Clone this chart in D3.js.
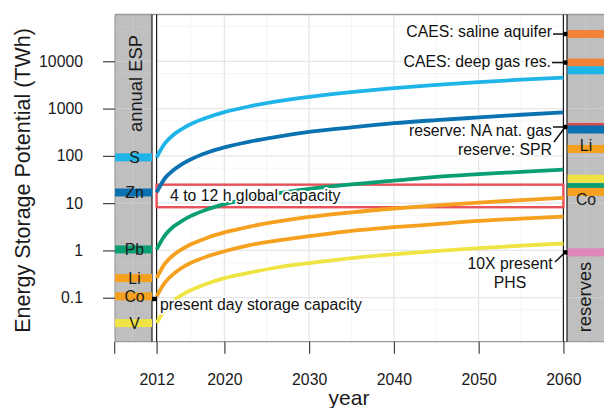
<!DOCTYPE html>
<html>
<head>
<meta charset="utf-8">
<script src="https://cdn.jsdelivr.net/npm/d3@7"></script>
<style>
  html, body { margin: 0; padding: 0; background: #fff; }
  svg { display: block; font-family: "Liberation Sans", Arial, Helvetica, sans-serif; }
</style>
</head>
<body>
<svg id="chart" width="604" height="408"></svg>
<script>
// ---------- data ----------
const years = [2012, 2013, 2014, 2015, 2016, 2018, 2020, 2023, 2026, 2030, 2035, 2040, 2045, 2050, 2055, 2060];

// cumulative energy storage potential (TWh) per material
const materials = ["S", "Zn", "Pb", "Li", "Co", "V"];
const annualEsp = [93, 16.8, 1.05, 0.26, 0.107, 0.029];
const espS  = [93, 185, 280, 370, 465, 650, 840, 1120, 1400, 1770, 2230, 2700, 3160, 3630, 4090, 4500];
const espZn = [16.8, 34, 50, 67, 84, 118, 151, 200, 250, 320, 400, 490, 570, 650, 740, 830];
const espPb = [1.05, 2.1, 3.2, 4.2, 5.3, 7.4, 9.5, 12.6, 15.8, 20, 25, 30, 36, 41, 46, 51];
const espLi = [0.26, 0.53, 0.8, 1.06, 1.33, 1.86, 2.4, 3.2, 4.0, 5.1, 6.4, 7.7, 9.0, 10.3, 11.6, 12.9];
const espCo = [0.107, 0.21, 0.32, 0.43, 0.54, 0.75, 0.96, 1.3, 1.6, 2.0, 2.6, 3.1, 3.6, 4.2, 4.7, 5.2];
const espV  = [0.029, 0.057, 0.086, 0.115, 0.143, 0.2, 0.26, 0.34, 0.43, 0.54, 0.69, 0.83, 0.97, 1.12, 1.26, 1.4];
const espSeries = [espS, espZn, espPb, espLi, espCo, espV];

// reserves (TWh)
const reserveKeys   = ["saline", "deepgas", "S", "natgas", "Zn", "Li", "V", "Pb", "Co", "phs"];
const reserveValues = [37700, 9400, 6450, 408, 361, 140, 32.8, 21.8, 17.3, 0.91];
const reserveLabels = ["", "", "", "", "", "Li", "", "", "Co", ""];

// global capacity band: 4 h and 12 h
const capacityRange = [8.2, 24.6];
const presentStorage = 0.094;

// axis ticks
const xTicks = [2007, 2012, 2020, 2030, 2040, 2050, 2060];
const xTickLabels = ["", "2012", "2020", "2030", "2040", "2050", "2060"];
const xMinor = [2016, 2025, 2035, 2045, 2055];
const yTicks = [0.1, 1, 10, 100, 1000, 10000];
const yTickLabels = ["0.1", "1", "10", "100", "1000", "10000"];
const yMinor = [0.055, 0.55, 5.5, 55, 550, 5500, 55000];

// ---------- styles ----------
const matColor = {
  S: "#1fb5e9", Zn: "#0a72b0", Pb: "#0a9e73", Li: "#f5a01f", Co: "#f5a01f", V: "#efe443"
};
const resColor = {
  saline: "#f1823a", deepgas: "#f1823a", S: "#1fb5e9", natgas: "#d94a4a", Zn: "#0a72b0",
  Li: "#f5a01f", V: "#efe443", Pb: "#0a9e73", Co: "#f5a01f", phs: "#de87b8"
};
const capColor = "#e8505a";
const panelGrey = "#bfbfbf";
const textFont = 15.8;

// ---------- layout ----------
const svg = d3.select("#chart");
const panelTop = 14.5, panelBottom = 341.7;
const x = d3.scaleLinear().domain([2012, 2060]).range([156.6, 563.4]);
const y = d3.scaleLog().domain([0.1, 10000]).range([297.7, 61.3]);
const leftPanel = [x(2007) + 0.8, 152];
const rightPanel = [567, 606];
const mainArea = [x(2012), x(2060)];

// panels
svg.append("rect").attr("x", leftPanel[0]).attr("y", panelTop)
  .attr("width", leftPanel[1] - leftPanel[0]).attr("height", panelBottom - panelTop).attr("fill", panelGrey);
svg.append("rect").attr("x", rightPanel[0]).attr("y", panelTop)
  .attr("width", rightPanel[1] - rightPanel[0]).attr("height", panelBottom - panelTop).attr("fill", panelGrey);

// grid lines
const grid = svg.append("g");
function hLines(values, x0, x1, color, w) {
  grid.selectAll(null).data(values.filter(v => y(v) > panelTop && y(v) < panelBottom)).enter().append("line")
    .attr("x1", x0).attr("x2", x1).attr("y1", d => y(d)).attr("y2", d => y(d))
    .attr("stroke", color).attr("stroke-width", w);
}
hLines(yMinor, mainArea[0], mainArea[1], "#f2f2f2", 0.8);
hLines(yTicks, mainArea[0], mainArea[1], "#e6e6e6", 1.3);
grid.selectAll(null).data(xMinor).enter().append("line")
  .attr("x1", d => x(d)).attr("x2", d => x(d)).attr("y1", panelTop).attr("y2", panelBottom)
  .attr("stroke", "#f2f2f2").attr("stroke-width", 0.8);
grid.selectAll(null).data(xTicks.filter(d => d > 2012 && d < 2060)).enter().append("line")
  .attr("x1", d => x(d)).attr("x2", d => x(d)).attr("y1", panelTop).attr("y2", panelBottom)
  .attr("stroke", "#e6e6e6").attr("stroke-width", 1.3);
[leftPanel, rightPanel].forEach(p => {
  hLines(yMinor, p[0], p[1], "#c6c6c6", 0.8);
  hLines(yTicks, p[0], p[1], "#cbcbcb", 1.3);
  grid.append("line").attr("x1", (p[0] + p[1]) / 2 - 0.5).attr("x2", (p[0] + p[1]) / 2 - 0.5)
    .attr("y1", panelTop).attr("y2", panelBottom).attr("stroke", "#c8c8c8").attr("stroke-width", 1);
});

// frame
svg.append("line").attr("x1", leftPanel[0]).attr("x2", 604).attr("y1", panelTop).attr("y2", panelTop)
  .attr("stroke", "#9a9a9a").attr("stroke-width", 1.4);
svg.append("line").attr("x1", leftPanel[0]).attr("x2", 604).attr("y1", panelBottom).attr("y2", panelBottom)
  .attr("stroke", "#9a9a9a").attr("stroke-width", 1.2);
svg.append("line").attr("x1", leftPanel[0]).attr("x2", leftPanel[0]).attr("y1", panelTop).attr("y2", panelBottom)
  .attr("stroke", "#9a9a9a").attr("stroke-width", 1.2);
[leftPanel[1], x(2012), x(2060), rightPanel[0]].forEach(px => {
  svg.append("line").attr("x1", px).attr("x2", px).attr("y1", panelTop).attr("y2", panelBottom)
    .attr("stroke", "#1a1a1a").attr("stroke-width", 1.2);
});

// 4 to 12 h global capacity box
svg.append("rect")
  .attr("x", x(2012)).attr("y", y(capacityRange[1]))
  .attr("width", x(2060) - x(2012)).attr("height", y(capacityRange[0]) - y(capacityRange[1]))
  .attr("fill", "none").attr("stroke", capColor).attr("stroke-width", 2.4);

// cumulative ESP curves
const line = d3.line().x(d => x(d[0])).y(d => y(d[1])).curve(d3.curveMonotoneX);
materials.forEach((m, i) => {
  svg.append("path")
    .datum(years.map((yr, j) => [yr, espSeries[i][j]]))
    .attr("d", line).attr("fill", "none")
    .attr("stroke", matColor[m]).attr("stroke-width", 3.8).attr("stroke-linecap", "butt");
});

// annual ESP bands (left panel)
const bandH = 8;
const leftG = svg.append("g");
materials.forEach((m, i) => {
  leftG.append("rect").attr("x", leftPanel[0]).attr("y", y(annualEsp[i]) - bandH / 2)
    .attr("width", leftPanel[1] - leftPanel[0]).attr("height", bandH).attr("fill", matColor[m]);
});
materials.forEach((m, i) => {
  leftG.append("text").attr("x", 134.5).attr("y", y(annualEsp[i]) + 0.36 * textFont)
    .attr("text-anchor", "middle").attr("font-size", textFont).attr("fill", "#1a1a1a").text(m);
});
leftG.append("text").attr("transform", "translate(141.5,83.5) rotate(-90)")
  .attr("text-anchor", "middle").attr("font-size", 18.4).attr("fill", "#1a1a1a").text("annual ESP");

// reserve bands (right panel)
const rightG = svg.append("g");
reserveKeys.forEach((k, i) => {
  rightG.append("rect").attr("x", rightPanel[0] + 0.6).attr("y", y(reserveValues[i]) - bandH / 2)
    .attr("width", rightPanel[1] - rightPanel[0]).attr("height", bandH).attr("fill", resColor[k]);
});
const resLabelOffset = { Li: -3.5, Co: 7 };
reserveKeys.forEach((k, i) => {
  if (!reserveLabels[i]) return;
  rightG.append("text").attr("x", 586)
    .attr("y", y(reserveValues[i]) + resLabelOffset[k] + 0.36 * textFont)
    .attr("text-anchor", "middle").attr("font-size", textFont).attr("fill", "#1a1a1a").text(reserveLabels[i]);
});
rightG.append("text").attr("transform", "translate(591,297) rotate(-90)")
  .attr("text-anchor", "middle").attr("font-size", 18.4).attr("fill", "#1a1a1a").text("reserves");

// annotations
const ann = svg.append("g").attr("font-size", textFont).attr("fill", "#111");
function haloText(g, tx, ty, str, anchor) {
  return g.append("text").attr("x", tx).attr("y", ty).attr("text-anchor", anchor || "start")
    .attr("stroke", "#fff").attr("stroke-width", 3.5).attr("stroke-linejoin", "round")
    .attr("paint-order", "stroke").text(str);
}
haloText(ann, 170, 200.8, "4 to 12 h global capacity");
haloText(ann, 160, 310, "present day storage capacity");

const markX = (x(2060) + rightPanel[0]) / 2;
const leaders = [
  { text: "CAES: saline aquifer", tx: 552, ty: 37, from: [553, y(37700)], to: y(37700) },
  { text: "CAES: deep gas res.", tx: 551, ty: 66.5, from: [552, y(9400)], to: y(9400) },
  { text: "reserve: NA nat. gas", tx: 552, ty: 136.3, from: [553, y(408)], to: y(408) },
  { text: "reserve: SPR", tx: 552, ty: 155.3, from: [554, 142], to: y(408) },
];
leaders.forEach(l => {
  haloText(ann, l.tx, l.ty, l.text, "end");
  ann.append("line").attr("x1", l.from[0]).attr("y1", l.from[1]).attr("x2", markX).attr("y2", l.to)
    .attr("stroke", "#111").attr("stroke-width", 1.5);
});
const phsText = ann.append("text").attr("text-anchor", "middle")
  .attr("stroke", "#fff").attr("stroke-width", 3.5).attr("stroke-linejoin", "round").attr("paint-order", "stroke");
phsText.append("tspan").attr("x", 510).attr("y", 269).text("10X present");
phsText.append("tspan").attr("x", 510).attr("y", 288).text("PHS");
ann.append("line").attr("x1", 555).attr("y1", 262).attr("x2", markX).attr("y2", y(0.91))
  .attr("stroke", "#111").attr("stroke-width", 1.5);

// point markers
const markers = [
  [(leftPanel[1] + x(2012)) / 2, presentStorage],
  [markX, 37700], [markX, 9400], [markX, 408], [markX, 0.91]
];
svg.selectAll(null).data(markers).enter().append("rect")
  .attr("x", d => d[0] - 2.2).attr("y", d => y(d[1]) - 2.2)
  .attr("width", 4.4).attr("height", 4.4).attr("fill", "#000");

// axes
const xAxis = d3.axisBottom(x).tickValues(xTicks)
  .tickFormat((d, i) => xTickLabels[i]).tickSize(12).tickPadding(20);
const gx = svg.append("g").attr("transform", `translate(0,${panelBottom})`).call(xAxis);
gx.select(".domain").remove();
gx.selectAll(".tick line").attr("stroke", "#333").attr("stroke-width", 1.1);
gx.selectAll(".tick text").attr("font-size", textFont).attr("fill", "#1a1a1a")
  .attr("font-family", "Liberation Sans, Arial, sans-serif");

const yAxis = d3.axisLeft(y).tickValues(yTicks)
  .tickFormat((d, i) => yTickLabels[i]).tickSize(12).tickPadding(20);
const gy = svg.append("g").attr("transform", `translate(${leftPanel[0]},0)`).call(yAxis);
gy.select(".domain").remove();
gy.selectAll(".tick line").attr("stroke", "#333").attr("stroke-width", 1.1);
gy.selectAll(".tick text").attr("font-size", textFont).attr("fill", "#1a1a1a")
  .attr("font-family", "Liberation Sans, Arial, sans-serif");

// axis titles
svg.append("text").attr("x", 349).attr("y", 404.5).attr("text-anchor", "middle")
  .attr("font-size", 21).attr("fill", "#1a1a1a").text("year");
svg.append("text").attr("transform", "translate(30,180.5) rotate(-90)").attr("text-anchor", "middle")
  .attr("font-size", 21.5).attr("fill", "#1a1a1a").text("Energy Storage Potential (TWh)");
</script>
</body>
</html>
